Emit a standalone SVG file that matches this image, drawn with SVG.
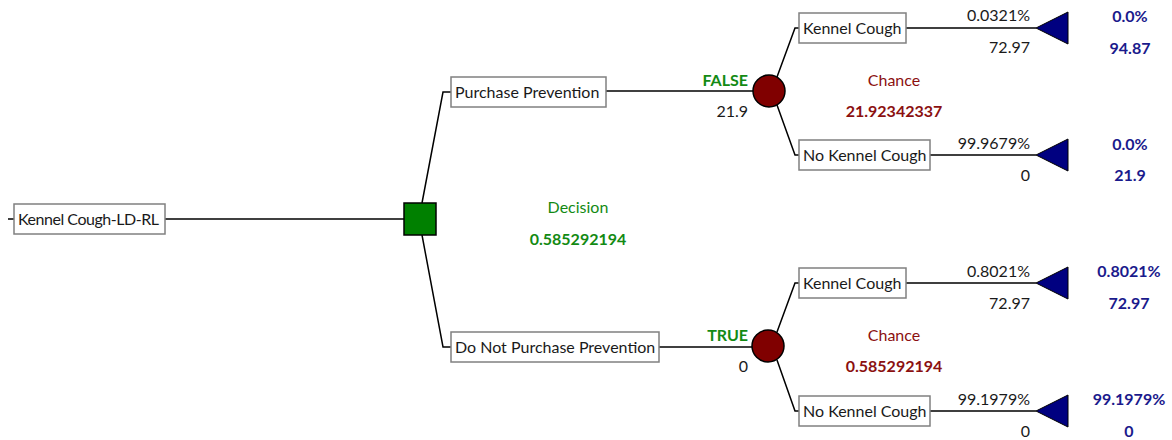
<svg xmlns="http://www.w3.org/2000/svg" width="1172" height="440" viewBox="0 0 1172 440">
  <style>
    .bg { fill: #ffffff; }
    .line { stroke: #000000; stroke-width: 1.5; fill: none; }
    .box { fill: #ffffff; stroke: #808080; stroke-width: 1.5; }
    text { font-family: Lato, "Liberation Sans", Arial, sans-serif; font-size: 16px; }
    .txt { fill: #1a1a1a; }
    .num { fill: #1a1a1a; text-anchor: end; }
    .dec { fill: #008000; stroke: #000000; stroke-width: 1.5; }
    .chance { fill: #800000; stroke: #000000; stroke-width: 1.5; }
    .term { fill: #000080; stroke: #000000; stroke-width: 1; }
    .green { fill: #138a13; text-anchor: middle; }
    .greenb { font-weight: bold; fill: #138a13; }
    .red { fill: #8b1010; text-anchor: middle; }
    .redb { font-weight: bold; fill: #8b1010; text-anchor: middle; }
    .blue { font-weight: bold; fill: #1a1a8c; text-anchor: middle; }
  </style>
  <rect class="bg" x="0" y="0" width="1172" height="440"/>

  <!-- connectors -->
  <g id="connectors">
    <path class="line" d="M8 219 H404"/>
    <path class="line" d="M422 203 L443 92 H451"/>
    <path class="line" d="M422 235 L443 347 H451"/>
    <path class="line" d="M606 91 H753"/>
    <path class="line" d="M659 347 H752"/>
    <path class="line" d="M777 77 L795 28 H1036"/>
    <path class="line" d="M777 105 L795 155 H1036"/>
    <path class="line" d="M777 332 L795 283 H1036"/>
    <path class="line" d="M777 360 L795 411 H1036"/>
  </g>

  <!-- root -->
  <g id="root">
    <rect class="box" x="14" y="204" width="151" height="30"/>
    <text class="txt" x="18" y="224.5" textLength="141" lengthAdjust="spacing">Kennel Cough-LD-RL</text>
  </g>

  <!-- decision node -->
  <g id="decision">
    <rect class="dec" x="404" y="203" width="32" height="32"/>
    <text class="green" x="578" y="213">Decision</text>
    <text class="greenb" x="578" y="245" text-anchor="middle">0.585292194</text>
  </g>

  <!-- option: purchase prevention -->
  <g id="opt-purchase">
    <rect class="box" x="451" y="77" width="155" height="30"/>
    <text class="txt" x="455" y="97.5">Purchase Prevention</text>
    <text class="greenb" x="748" y="86" text-anchor="end">FALSE</text>
    <text class="num" x="748" y="117">21.9</text>
  </g>

  <!-- option: do not purchase prevention -->
  <g id="opt-nopurchase">
    <rect class="box" x="451" y="332" width="208" height="30"/>
    <text class="txt" x="455" y="352.5">Do Not Purchase Prevention</text>
    <text class="greenb" x="748" y="341" text-anchor="end">TRUE</text>
    <text class="num" x="748" y="372">0</text>
  </g>

  <!-- chance node 1 -->
  <g id="chance1">
    <circle class="chance" cx="769" cy="91" r="16"/>
    <text class="red" x="894" y="86">Chance</text>
    <text class="redb" x="894" y="117">21.92342337</text>
  </g>

  <!-- chance node 2 -->
  <g id="chance2">
    <circle class="chance" cx="768" cy="346" r="16"/>
    <text class="red" x="894" y="341">Chance</text>
    <text class="redb" x="894" y="372">0.585292194</text>
  </g>

  <!-- outcome branches -->
  <g id="c1-kc">
    <rect class="box" x="799" y="13" width="107" height="30"/>
    <text class="txt" x="803" y="33.5">Kennel Cough</text>
    <text class="num" x="1030" y="21">0.0321%</text>
    <text class="num" x="1030" y="53">72.97</text>
    <polygon class="term" points="1036,28 1068,12 1068,44"/>
    <text class="blue" x="1130" y="22">0.0%</text>
    <text class="blue" x="1130" y="54">94.87</text>
  </g>

  <g id="c1-nokc">
    <rect class="box" x="799" y="140" width="131" height="30"/>
    <text class="txt" x="803" y="160.5">No Kennel Cough</text>
    <text class="num" x="1030" y="149">99.9679%</text>
    <text class="num" x="1030" y="181">0</text>
    <polygon class="term" points="1036,155 1068,139 1068,171"/>
    <text class="blue" x="1130" y="150">0.0%</text>
    <text class="blue" x="1130" y="181">21.9</text>
  </g>

  <g id="c2-kc">
    <rect class="box" x="799" y="268" width="107" height="30"/>
    <text class="txt" x="803" y="288.5">Kennel Cough</text>
    <text class="num" x="1030" y="277">0.8021%</text>
    <text class="num" x="1030" y="309">72.97</text>
    <polygon class="term" points="1036,283 1068,267 1068,299"/>
    <text class="blue" x="1129" y="277">0.8021%</text>
    <text class="blue" x="1129" y="309">72.97</text>
  </g>

  <g id="c2-nokc">
    <rect class="box" x="799" y="396" width="131" height="30"/>
    <text class="txt" x="803" y="416.5">No Kennel Cough</text>
    <text class="num" x="1030" y="405">99.1979%</text>
    <text class="num" x="1030" y="437">0</text>
    <polygon class="term" points="1036,411 1068,395 1068,427"/>
    <text class="blue" x="1129" y="405">99.1979%</text>
    <text class="blue" x="1129" y="437">0</text>
  </g>
</svg>
